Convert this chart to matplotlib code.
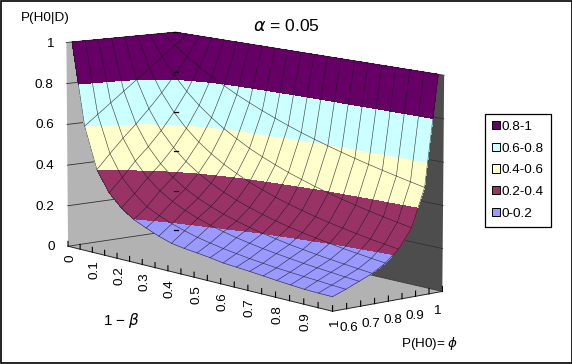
import numpy as np
import matplotlib
matplotlib.use("Agg")
import matplotlib.pyplot as plt
from matplotlib.patches import Polygon, Rectangle, Patch

plt.rcParams['font.family'] = ['Liberation Sans', 'DejaVu Sans']
plt.rcParams['mathtext.fontset'] = 'dejavusans'

# ---- data ----
power = [0, .05, .10, .15, .20, .25, .30, .35, .40, .45, .50,
         .55, .60, .65, .70, .75, .80, .85, .90, .95, 1.0]
prior = [.60, .65, .70, .75, .80, .85, .90, .95, 1.0]
row_060 = [1, .600, .400, .300, .240, .197, .170, .145, .125, .115, .108, .100, .090, .085, .080, .074, .068, .063, .058, .056, .055]
row_065 = [1, .650, .470, .365, .300, .250, .220, .195, .175, .158, .145, .133, .124, .115, .108, .101, .096, .091, .087, .082, .078]
row_070 = [1, .700, .538, .438, .368, .318, .280, .250, .226, .206, .189, .175, .163, .152, .143, .135, .127, .121, .115, .109, .104]
row_075 = [1, .750, .600, .500, .429, .375, .333, .300, .273, .250, .231, .214, .200, .188, .176, .167, .158, .150, .143, .136, .130]
row_080 = [1, .800, .667, .571, .500, .444, .400, .364, .333, .308, .286, .267, .250, .235, .222, .211, .200, .190, .182, .174, .167]
row_085 = [1, .850, .739, .654, .586, .531, .486, .447, .415, .386, .362, .340, .321, .304, .288, .274, .262, .250, .239, .230, .221]
row_090 = [1, .900, .818, .750, .692, .643, .600, .563, .529, .500, .474, .450, .429, .409, .391, .375, .360, .346, .333, .321, .310]
row_095 = [1, .950, .905, .864, .826, .792, .760, .731, .704, .679, .655, .633, .613, .594, .576, .559, .543, .528, .514, .500, .487]
row_100 = [1] * 21
levels = [0, .2, .4, .6, .8, 1.001]
band_labels = ['0-0.2', '0.2-0.4', '0.4-0.6', '0.6-0.8', '0.8-1']
band_colors = ['#9999FF', '#993366', '#FFFFCC', '#CCFFFF', '#660066']
power_ticks = [0, .1, .2, .3, .4, .5, .6, .7, .8, .9, 1]
power_tick_labels = ['0', '0.1', '0.2', '0.3', '0.4', '0.5', '0.6', '0.7', '0.8', '0.9', '1']
prior_ticks = [.6, .7, .8, .9, 1]
prior_tick_labels = ['0.6', '0.7', '0.8', '0.9', '1']
z_ticks = [0, .2, .4, .6, .8, 1]
z_tick_labels = ['0', '0.2', '0.4', '0.6', '0.8', '1']

Z = np.array([row_060, row_065, row_070, row_075, row_080, row_085, row_090, row_095, row_100])

# ---- perspective camera fitted on the box corners (pixels) ----
world = [(0,0,0),(0,0,1),(0,1,0),(0,1,1),(1,1,0),(1,1,1),(1,0,0)]
screen = [(68,246),(66,43),(176,230),(176,32),(442,292),(444,75),(333,311)]
A, b = [], []
for (u,v,w),(sx,sy) in zip(world, screen):
    A.append([u,v,w,1,0,0,0,0,-sx*u,-sx*v,-sx*w]); b.append(sx)
    A.append([0,0,0,0,u,v,w,1,-sy*u,-sy*v,-sy*w]); b.append(sy)
P = np.linalg.lstsq(np.array(A,float), np.array(b,float), rcond=None)[0]
P = np.append(P, 1.0).reshape(3,4)

def proj(u, v, w):
    u, v, w = np.broadcast_arrays(np.asarray(u,float), np.asarray(v,float), np.asarray(w,float))
    h = np.stack([u,v,w,np.ones_like(u)], -1) @ P.T
    return h[...,0]/h[...,2], h[...,1]/h[...,2]

def U(x): return np.asarray(x, float)
def V(p): return (np.asarray(p, float) - .6) / .4
# the surface sits slightly inside the box
def Us(x): return U(x) * .98
def Vs(p): return .05 + .95 * V(p)

fig = plt.figure(figsize=(5.72, 3.64), dpi=100)
ax = fig.add_axes([0, 0, 1, 1])
ax.set_xlim(0, 572); ax.set_ylim(364, 0); ax.axis('off')

def poly(pts, fc, z):
    xy = np.array([proj(*p) for p in pts])
    ax.add_patch(Polygon(xy, closed=True, fc=fc, ec='none', zorder=z))

poly([(0,0,0),(0,1,0),(0,1,1),(0,0,1)], '#B4B4B4', 1)
poly([(0,1,0),(1,1,0),(1,1,1),(0,1,1)], '#4D4D4D', 1)
poly([(0,0,0),(1,0,0),(1,1,0),(0,1,0)], '#B2B2B2', 1)

for z in z_ticks:
    x, y = proj([0,0,1],[0,1,1],[z,z,z])
    ax.plot(x, y, color='#303030', lw=.6, zorder=2)

# axis edges and ticks
x, y = proj([0,1,1],[0,0,1],[0,0,0])
ax.plot(x, y, color='#222222', lw=.7, zorder=2)
for p in power:
    x, y = proj([p,p],[0,0],[0,.024])
    ax.plot(x, y, color='black', lw=.8, zorder=2)
for p in prior:
    x, y = proj([1,1],[V(p),V(p)],[0,.024])
    ax.plot(x, y, color='black', lw=.8, zorder=2)

# surface
PW, PR = np.meshgrid(power, prior)
SX, SY = proj(Us(PW), Vs(PR), Z)
ax.contourf(SX, SY, Z, levels=levels, colors=band_colors, zorder=3)
for i in range(Z.shape[0]):
    ax.plot(SX[i], SY[i], color='#1a1a1a', lw=.45, alpha=.8, zorder=4)
for j in range(Z.shape[1]):
    ax.plot(SX[:,j], SY[:,j], color='#1a1a1a', lw=.45, alpha=.8, zorder=4)

# z ticks showing at the back corner
for z in z_ticks:
    x, y = proj(0, 1, z)
    ax.plot([x-2, x+2], [y, y], color='black', lw=.9, zorder=5)

# tick labels
fs = 9.7
for p, t in zip(power_ticks, power_tick_labels):
    x, y = proj(p, 0, 0)
    ax.text(x+2, y+8, t, rotation=90, ha='center', va='top', fontsize=fs, zorder=6)
for p, t in zip(prior_ticks, prior_tick_labels):
    x, y = proj(1, V(p), 0)
    ax.text(x+16 - 22*V(p), y+17+3*V(p), t, ha='center', va='center', fontsize=fs, zorder=6)
for z, t in zip(z_ticks, z_tick_labels):
    x, y = proj(0, 0, z)
    ax.text(x-13, y+1, t, ha='right', va='center', fontsize=fs, zorder=6)

ax.text(45, 18, 'P(H0|D)', ha='center', va='center', fontsize=fs)
ax.text(286, 26, r'$\alpha$ = 0.05', ha='center', va='center', fontsize=12.6)
ax.text(122, 321, r'1 − $\beta$', ha='center', va='center', fontsize=11)
ax.text(430, 344, r'P(H0)= $\phi$', ha='center', va='center', fontsize=fs)

handles = [Patch(fc=c, ec='black', lw=.7) for c in band_colors[::-1]]
leg = ax.legend(handles, band_labels[::-1], loc='upper left',
                bbox_to_anchor=(485/572, 1-113.5/364), fontsize=fs, frameon=True, fancybox=False,
                edgecolor='black', framealpha=1, borderpad=.55, labelspacing=.72,
                handlelength=.55, handleheight=.55, handletextpad=.1, borderaxespad=0)
leg.get_frame().set_linewidth(.9)

ax.add_patch(Rectangle((.5,.5), 571, 362.5, fc='none', ec='black', lw=1.2, zorder=7))

fig.savefig('out.png', dpi=100)
